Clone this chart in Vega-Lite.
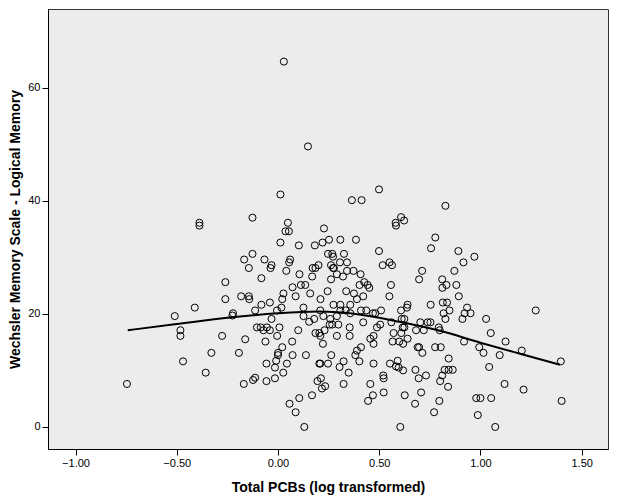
{
"$schema": "https://vega.github.io/schema/vega-lite/v6.json",
"width": 560, "height": 440,
"autosize": "none",
"padding": {"left": 48, "top": 9, "right": 11, "bottom": 52},
"background": "white",
"config": {"view": {"fill": "#ECECEC", "stroke": "#333333", "strokeWidth": 1},
  "font": "Liberation Sans",
  "axis": {"grid": false, "domainColor": "#000000", "tickColor": "#000000", "labelColor": "#000000", "titleColor": "#000000", "labelFont": "Liberation Sans", "titleFont": "Liberation Sans", "labelFontSize": 11, "titleFontSize": 14, "titleFontWeight": "bold", "tickSize": 6, "labelPadding": 2}},
"datasets": {
"fit": [{"x":-0.742,"y":17.1},{"x":-0.5,"y":18.2},{"x":-0.25,"y":19.3},{"x":0.0,"y":20.1},{"x":0.2,"y":20.4},{"x":0.4,"y":19.9},{"x":0.6,"y":18.6},{"x":0.8,"y":17.0},{"x":1.0,"y":14.9},{"x":1.2,"y":12.9},{"x":1.393,"y":11.0}],
"pts": [
{"x":0.148,"y":49.6},{"x":0.012,"y":41.1},{"x":-0.388,"y":36.1},{"x":-0.388,"y":35.6},{"x":-0.126,"y":37.0},{"x":0.049,"y":36.1},{"x":0.037,"y":34.6},{"x":0.054,"y":34.6},{"x":0.227,"y":35.1},{"x":0.012,"y":32.6},
{"x":0.103,"y":32.1},{"x":0.182,"y":32.1},{"x":0.220,"y":32.6},{"x":0.252,"y":33.1},{"x":0.308,"y":33.1},{"x":-0.167,"y":29.6},{"x":-0.126,"y":30.6},{"x":-0.067,"y":29.6},{"x":-0.144,"y":28.1},{"x":-0.032,"y":28.6},
{"x":-0.037,"y":28.1},{"x":0.060,"y":29.6},{"x":0.055,"y":29.1},{"x":0.041,"y":27.6},{"x":-0.082,"y":26.3},{"x":0.106,"y":27.0},{"x":0.171,"y":28.1},{"x":0.185,"y":28.1},{"x":0.200,"y":28.6},{"x":0.169,"y":26.6},
{"x":0.247,"y":30.6},{"x":0.268,"y":30.6},{"x":0.272,"y":30.1},{"x":0.326,"y":30.6},{"x":0.306,"y":29.1},{"x":0.341,"y":29.1},{"x":0.262,"y":28.6},{"x":0.272,"y":28.1},{"x":0.276,"y":28.1},{"x":0.291,"y":27.0},
{"x":0.321,"y":26.6},{"x":0.262,"y":26.1},{"x":0.341,"y":27.6},{"x":-0.260,"y":25.6},{"x":0.072,"y":24.7},{"x":0.113,"y":25.1},{"x":0.135,"y":25.1},
{"x":0.499,"y":42.0},{"x":0.365,"y":40.1},{"x":0.413,"y":40.1},{"x":0.827,"y":39.1},{"x":0.581,"y":36.1},{"x":0.583,"y":35.6},{"x":0.608,"y":37.1},{"x":0.623,"y":36.5},{"x":0.385,"y":33.1},{"x":0.777,"y":33.5},
{"x":0.756,"y":31.6},{"x":0.891,"y":31.1},{"x":0.970,"y":30.1},{"x":0.916,"y":29.1},{"x":0.499,"y":31.1},{"x":0.551,"y":29.1},{"x":0.563,"y":28.6},{"x":0.517,"y":28.6},{"x":0.712,"y":27.6},{"x":0.697,"y":26.1},
{"x":0.871,"y":27.6},{"x":0.811,"y":26.1},{"x":0.812,"y":24.6},{"x":0.832,"y":25.1},{"x":0.881,"y":25.1},{"x":0.373,"y":27.6},{"x":0.408,"y":27.0},{"x":0.403,"y":25.1},{"x":0.426,"y":25.6},{"x":0.443,"y":25.1},
{"x":0.451,"y":24.6},{"x":0.558,"y":25.1},{"x":0.029,"y":64.6},
{"x":-0.260,"y":22.6},{"x":-0.182,"y":23.1},{"x":-0.144,"y":23.1},{"x":-0.142,"y":22.6},{"x":-0.411,"y":21.1},{"x":-0.510,"y":19.6},{"x":-0.222,"y":20.1},{"x":-0.225,"y":19.7},{"x":-0.482,"y":17.1},{"x":-0.482,"y":16.1},
{"x":-0.276,"y":16.1},{"x":-0.162,"y":15.5},{"x":-0.329,"y":13.1},{"x":-0.193,"y":13.1},{"x":-0.469,"y":11.6},{"x":-0.357,"y":9.6},{"x":-0.746,"y":7.6},{"x":-0.169,"y":7.6},
{"x":0.027,"y":23.6},{"x":0.087,"y":23.1},{"x":0.159,"y":23.6},{"x":0.245,"y":24.0},{"x":0.337,"y":24.0},{"x":0.375,"y":23.6},{"x":0.421,"y":23.1},{"x":0.390,"y":22.6},{"x":0.210,"y":22.6},{"x":0.021,"y":22.6},{"x":0.550,"y":23.1},
{"x":-0.040,"y":22.0},{"x":-0.082,"y":21.6},{"x":0.017,"y":21.1},{"x":0.126,"y":21.1},{"x":0.274,"y":21.6},{"x":0.308,"y":21.6},{"x":0.357,"y":21.6},{"x":0.640,"y":21.6},{"x":0.637,"y":21.1},{"x":-0.113,"y":20.6},{"x":-0.005,"y":20.6},
{"x":0.126,"y":19.6},{"x":0.209,"y":20.6},{"x":0.224,"y":19.6},{"x":0.308,"y":20.6},{"x":0.334,"y":20.6},{"x":0.357,"y":20.1},{"x":0.410,"y":20.6},{"x":0.436,"y":20.6},{"x":0.469,"y":20.1},{"x":0.481,"y":20.1},{"x":0.509,"y":20.6},{"x":0.608,"y":20.6},
{"x":-0.032,"y":19.1},{"x":0.154,"y":18.6},{"x":0.179,"y":19.1},{"x":0.258,"y":19.1},{"x":0.291,"y":19.6},{"x":0.611,"y":19.1},{"x":0.624,"y":19.1},{"x":0.703,"y":18.5},{"x":0.739,"y":18.5},{"x":0.421,"y":18.5},{"x":0.560,"y":18.5},
{"x":-0.104,"y":17.6},{"x":-0.085,"y":17.6},{"x":-0.055,"y":17.6},{"x":-0.072,"y":17.1},{"x":-0.040,"y":17.1},{"x":0.007,"y":17.6},{"x":0.100,"y":17.1},{"x":0.185,"y":16.6},{"x":0.204,"y":16.6},{"x":0.230,"y":17.1},{"x":0.255,"y":18.1},
{"x":0.268,"y":18.1},{"x":0.298,"y":18.1},{"x":0.354,"y":17.6},{"x":0.489,"y":17.6},{"x":0.505,"y":18.1},{"x":0.571,"y":16.6},{"x":0.616,"y":17.6},{"x":0.624,"y":17.6},{"x":0.609,"y":16.6},{"x":0.682,"y":17.1},{"x":0.720,"y":17.1},
{"x":-0.062,"y":15.1},{"x":-0.004,"y":16.1},{"x":0.070,"y":15.1},{"x":0.209,"y":16.1},{"x":0.222,"y":14.7},{"x":0.291,"y":16.1},{"x":0.354,"y":16.1},{"x":0.456,"y":15.6},{"x":0.472,"y":16.1},{"x":0.472,"y":14.7},{"x":0.566,"y":15.1},
{"x":0.599,"y":15.1},{"x":0.618,"y":14.7},{"x":0.640,"y":15.6},{"x":0.690,"y":14.1},{"x":0.697,"y":14.1},
{"x":0.000,"y":13.1},{"x":0.000,"y":12.7},{"x":-0.009,"y":11.7},{"x":0.021,"y":14.1},{"x":0.072,"y":12.7},{"x":0.138,"y":12.7},{"x":0.263,"y":12.7},{"x":0.410,"y":14.1},{"x":0.390,"y":13.5},{"x":0.382,"y":12.7},{"x":0.402,"y":11.6},
{"x":0.324,"y":11.6},{"x":0.204,"y":11.2},{"x":0.209,"y":11.2},{"x":0.247,"y":11.2},{"x":0.304,"y":10.6},{"x":0.472,"y":11.2},{"x":0.553,"y":11.2},{"x":0.591,"y":11.7},{"x":0.583,"y":10.7},{"x":0.596,"y":10.5},{"x":0.618,"y":10.0},
{"x":0.713,"y":13.1},{"x":-0.057,"y":11.2},{"x":-0.015,"y":10.5},{"x":0.044,"y":11.2},{"x":0.026,"y":9.6},
{"x":-0.123,"y":8.3},{"x":-0.113,"y":8.7},{"x":-0.057,"y":8.1},{"x":-0.015,"y":8.6},{"x":0.349,"y":9.6},{"x":0.195,"y":8.1},{"x":0.212,"y":8.6},{"x":0.233,"y":7.2},{"x":0.217,"y":6.8},{"x":0.324,"y":7.6},{"x":0.456,"y":7.6},
{"x":0.520,"y":9.1},{"x":0.522,"y":8.6},{"x":0.695,"y":8.6},{"x":0.731,"y":9.1},{"x":0.679,"y":10.1},
{"x":0.469,"y":5.6},{"x":0.445,"y":4.6},{"x":0.522,"y":6.1},{"x":0.626,"y":5.6},{"x":0.707,"y":6.1},{"x":0.168,"y":5.6},{"x":0.105,"y":5.1},{"x":0.057,"y":4.1},{"x":0.087,"y":2.6},{"x":0.130,"y":0.0},{"x":0.604,"y":0.0},{"x":0.677,"y":4.1},
{"x":0.893,"y":23.1},{"x":0.754,"y":21.6},{"x":0.814,"y":22.0},{"x":0.835,"y":22.0},{"x":0.818,"y":20.1},{"x":0.847,"y":20.6},{"x":0.827,"y":19.1},{"x":0.934,"y":21.1},{"x":0.922,"y":20.1},{"x":0.951,"y":20.1},{"x":0.911,"y":19.1},
{"x":1.028,"y":19.1},{"x":1.273,"y":20.6},{"x":0.753,"y":18.5},{"x":0.794,"y":17.6},{"x":0.799,"y":17.1},{"x":1.051,"y":16.6},{"x":0.919,"y":15.1},{"x":1.124,"y":15.1},{"x":0.994,"y":14.1},{"x":1.015,"y":13.1},{"x":1.095,"y":12.7},
{"x":1.204,"y":13.5},{"x":1.397,"y":11.6},{"x":0.776,"y":14.1},{"x":0.804,"y":14.1},{"x":0.843,"y":12.1},{"x":0.823,"y":10.1},{"x":0.843,"y":10.1},{"x":0.863,"y":10.1},{"x":0.811,"y":9.1},{"x":0.801,"y":8.1},{"x":0.840,"y":7.1},
{"x":1.043,"y":10.6},{"x":1.119,"y":7.6},{"x":1.213,"y":6.6},{"x":0.797,"y":4.6},{"x":0.771,"y":2.6},{"x":0.979,"y":5.1},{"x":1.000,"y":5.1},{"x":1.053,"y":5.1},{"x":0.987,"y":2.1},{"x":1.073,"y":0.0},{"x":1.401,"y":4.6}
]},
"layer": [
 {"data": {"name": "pts"},
  "mark": {"type": "point", "shape": "circle", "filled": false, "color": "#000000", "size": 50, "strokeWidth": 1, "opacity": 1},
  "encoding": {
   "x": {"field": "x", "type": "quantitative", "scale": {"domain": [-1.136, 1.63], "nice": false, "zero": false},
     "axis": {"values": [-1, -0.5, 0, 0.5, 1, 1.5], "format": ".2f", "title": "Total PCBs (log transformed)", "titlePadding": 12}},
   "y": {"field": "y", "type": "quantitative", "scale": {"domain": [-3.9, 73.9], "nice": false, "zero": false},
     "axis": {"values": [0, 20, 40, 60], "title": "Wechsler Memory Scale - Logical Memory", "titlePadding": 5}}
  }},
 {"data": {"name": "fit"},
  "mark": {"type": "line", "color": "#000000", "strokeWidth": 2, "interpolate": "monotone"},
  "encoding": {"x": {"field": "x", "type": "quantitative"}, "y": {"field": "y", "type": "quantitative"}}}
]
}
